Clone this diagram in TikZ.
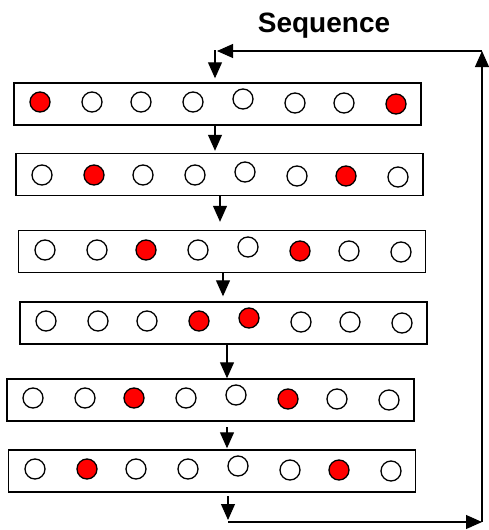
\documentclass[tikz,border=0pt]{standalone}
\usepackage{fontspec}
\setmainfont{Liberation Sans}
\usetikzlibrary{arrows.meta}
\tikzset{
  rowbox/.style={draw, line width=1.4pt, fill=white, minimum width=407pt, minimum height=42pt, inner sep=0pt},
  dot/.style={circle, draw, line width=1.3pt, minimum size=20pt, inner sep=0pt, fill=white},
  reddot/.style={dot, fill=red},
  arr/.style={line width=1.1pt, -{Triangle[length=16pt,width=14pt]}}
}
\begin{document}
\begin{tikzpicture}[x=1pt,y=-1pt]
\useasboundingbox (0,0) rectangle (488,530);
\node[font=\bfseries\fontsize{28}{30}\selectfont, anchor=base] (title) at (324,32) {Sequence};
% rows
\node[rowbox] (r1) at (217.5,104) {};
\node[rowbox] (r2) at (219.5,174.5) {};
\node[rowbox] (r3) at (222,251.5) {};
\node[rowbox] (r4) at (223.5,323) {};
\node[rowbox] (r5) at (210.5,400) {};
\node[rowbox] (r6) at (212,471) {};
% circles
\def\offs{{0,0,0,0,-3,1,1,2}}
\foreach \r/\y/\xa/\reds in {
  1/102/40/{1,8},
  2/175/42/{2,7},
  3/250/45/{3,6},
  4/321/46/{4,5},
  5/398/33/{3,6},
  6/469/35/{2,7}}{
  \foreach \i/\dx in {1/0,2/52,3/101,4/153,5/203,6/255,7/304,8/356}{
    \pgfmathsetmacro{\oy}{\offs[\i-1]}
    \def\sty{dot}
    \foreach \q in \reds {\ifnum\q=\i\relax\global\def\sty{reddot}\fi}
    \node[\sty] (r\r c\i) at (\xa+\dx,\y+\oy) {};
  }
}
% arrow coordinates
\coordinate (t0) at (215,50);
\coordinate (a1) at (215,125);
\coordinate (a2) at (220,195);
\coordinate (a3) at (223,272);
\coordinate (a4) at (227,344);
\coordinate (a5) at (227,427);
\coordinate (a6) at (228,496);
\coordinate (b1) at (228,522);
\coordinate (b2) at (482,522);
\coordinate (b3) at (482,51);
\coordinate (b4) at (217,51);
\draw[arr, shorten >=4pt] (t0) -- (t0 |- r1.north);
\draw[arr, shorten >=2pt] (a1) -- (a1 |- r2.north);
\draw[arr, shorten >=8pt] (a2) -- (a2 |- r3.north);
\draw[arr, shorten >=5pt] (a3) -- (a3 |- r4.north);
\draw[arr] (a4) -- (a4 |- r5.north);
\draw[arr, shorten >=1pt] (a5) -- (a5 |- r6.north);
\draw[arr, shorten >=2pt] (a6) -- (b1);
\draw[arr] (b1) -- (b2);
\draw[arr] (b2) -- (b3);
\draw[arr] (b3) -- (b4);
\end{tikzpicture}
\end{document}
